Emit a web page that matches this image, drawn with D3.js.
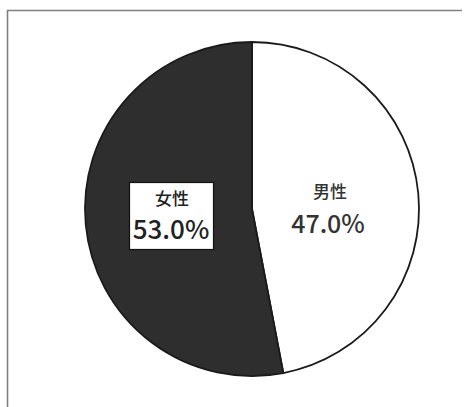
<!DOCTYPE html>
<html><head><meta charset="utf-8">
<script src="https://cdn.jsdelivr.net/npm/d3@7"></script>
<style>body{margin:0;background:#fff}svg{display:block}</style>
</head><body>
<svg id="c" width="465" height="407"></svg>
<script>
const categories = ["男性", "女性"];
const values = [47.0, 53.0];
const labels = ["47.0%", "53.0%"];
const colors = ["#ffffff", "#2e2e2e"];

const svg = d3.select("#c");
// frame
svg.append("path").attr("d", "M7.5,407 L7.5,10.5 L462,10.5")
  .attr("fill", "none").attr("stroke", "#808080").attr("stroke-width", 1.6);

const cx = 252, cy = 209, r = 167;
const g = svg.append("g").attr("transform", `translate(${cx},${cy})`);
const pie = d3.pie().sort(null).value(d => d)(values);
const arc = d3.arc().innerRadius(0).outerRadius(r);
g.selectAll("path.s").data(pie).join("path").attr("class", "s")
  .attr("d", arc).attr("fill", (d, i) => colors[i])
  .attr("stroke", "#1a1a1a").attr("stroke-width", 1.8);

const font = "'Noto Sans CJK JP','Noto Sans',sans-serif";
// male label
g.append("text").attr("x", 330 - cx).attr("y", 198 - cy).attr("text-anchor", "middle")
  .attr("font-family", font).attr("font-size", 17).attr("font-weight", 500).attr("fill", "#333").text(categories[0]);
g.append("text").attr("x", 328 - cx).attr("y", 233 - cy).attr("text-anchor", "middle")
  .attr("font-family", font).attr("font-size", 25).attr("font-weight", 500).attr("fill", "#333").text(labels[0]);
// female label with box
g.append("rect").attr("x", 129.5 - cx).attr("y", 182.5 - cy).attr("width", 84).attr("height", 67)
  .attr("fill", "#fff").attr("stroke", "#111").attr("stroke-width", 1.2);
g.append("text").attr("x", 172 - cx).attr("y", 205 - cy).attr("text-anchor", "middle")
  .attr("font-family", font).attr("font-size", 17).attr("font-weight", 500).attr("fill", "#222").text(categories[1]);
g.append("text").attr("x", 171 - cx).attr("y", 239 - cy).attr("text-anchor", "middle")
  .attr("font-family", font).attr("font-size", 26).attr("font-weight", 500).attr("fill", "#222").text(labels[1]);
</script>
</body></html>
